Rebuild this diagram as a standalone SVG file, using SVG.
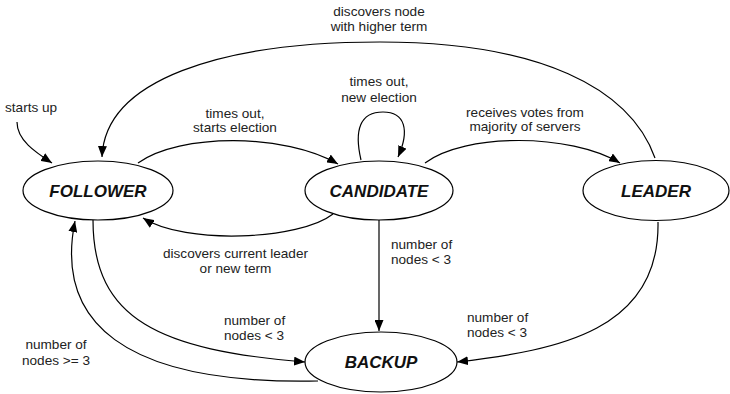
<svg xmlns="http://www.w3.org/2000/svg" width="730" height="394" viewBox="0 0 730 394">
<style>
  .node ellipse { fill: #ffffff; stroke: #000000; stroke-width: 1.2; }
  .node text { font-family: "Liberation Sans", Arial, sans-serif; font-size: 17px; font-weight: bold; font-style: italic; fill: #111111; text-anchor: middle; }
  .edge { fill: none; stroke: #000000; stroke-width: 1.2; marker-end: url(#arrow); }
  .lbl { font-family: "Liberation Sans", Arial, sans-serif; font-size: 13.6px; fill: #222222; }
  .mid { text-anchor: middle; }
</style>
<defs>
  <marker id="arrow" markerUnits="userSpaceOnUse" markerWidth="12" markerHeight="9" refX="11" refY="4.5" orient="auto">
    <path d="M0,0 L11,4.5 L0,9 z" fill="#000000"/>
  </marker>
</defs>
<rect width="730" height="394" fill="#ffffff"/>
<g id="connectors">
  <path class="edge" d="M17,122 C17,140 35,152 52,163"/>
  <path class="edge" d="M655,158 C630,88 540,42 380,42 C220,42 105,80 102,157"/>
  <path class="edge" d="M138,163 C180,133 285,133 338,164"/>
  <path class="edge" d="M361,160 C354,130 360,112 383,112 C405,112 410,130 398,157"/>
  <path class="edge" d="M425,163 C465,133 570,133 620,163"/>
  <path class="edge" d="M333,214 C300,240 185,245 143,218"/>
  <path class="edge" d="M379,220 L379,331"/>
  <path class="edge" d="M658,222 C660,330 560,350 457,362"/>
  <path class="edge" d="M93,220 C93,320 160,350 305,362"/>
  <path class="edge" d="M318,381 C120,385 55,320 75,221"/>
</g>
<g id="labels">
  <text class="lbl" x="5" y="112">starts up</text>
  <text class="lbl mid" x="379" y="15.5">discovers node</text>
  <text class="lbl mid" x="379" y="31">with higher term</text>
  <text class="lbl mid" x="379" y="86">times out,</text>
  <text class="lbl mid" x="379" y="101.5">new election</text>
  <text class="lbl mid" x="235" y="117.5">times out,</text>
  <text class="lbl mid" x="235" y="132">starts election</text>
  <text class="lbl mid" x="525" y="116.5">receives votes from</text>
  <text class="lbl mid" x="525" y="131">majority of servers</text>
  <text class="lbl mid" x="235.5" y="257.5">discovers current leader</text>
  <text class="lbl mid" x="235.5" y="273">or new term</text>
  <text class="lbl" x="391" y="249">number of</text>
  <text class="lbl" x="391" y="264">nodes &lt; 3</text>
  <text class="lbl" x="224" y="325">number of</text>
  <text class="lbl" x="224" y="340">nodes &lt; 3</text>
  <text class="lbl" x="467" y="322">number of</text>
  <text class="lbl" x="467" y="337">nodes &lt; 3</text>
  <text class="lbl mid" x="56" y="349">number of</text>
  <text class="lbl mid" x="56" y="365">nodes &gt;= 3</text>
</g>
<g id="follower" class="node">
  <ellipse cx="98" cy="190.5" rx="75" ry="29.5"/>
  <text x="98" y="197">FOLLOWER</text>
</g>
<g id="candidate" class="node">
  <ellipse cx="379" cy="190.5" rx="74" ry="29.5"/>
  <text x="379" y="197">CANDIDATE</text>
</g>
<g id="leader" class="node">
  <ellipse cx="656" cy="190.5" rx="73" ry="30"/>
  <text x="656" y="197">LEADER</text>
</g>
<g id="backup" class="node">
  <ellipse cx="381" cy="362" rx="76" ry="30"/>
  <text x="381" y="368">BACKUP</text>
</g>
</svg>
